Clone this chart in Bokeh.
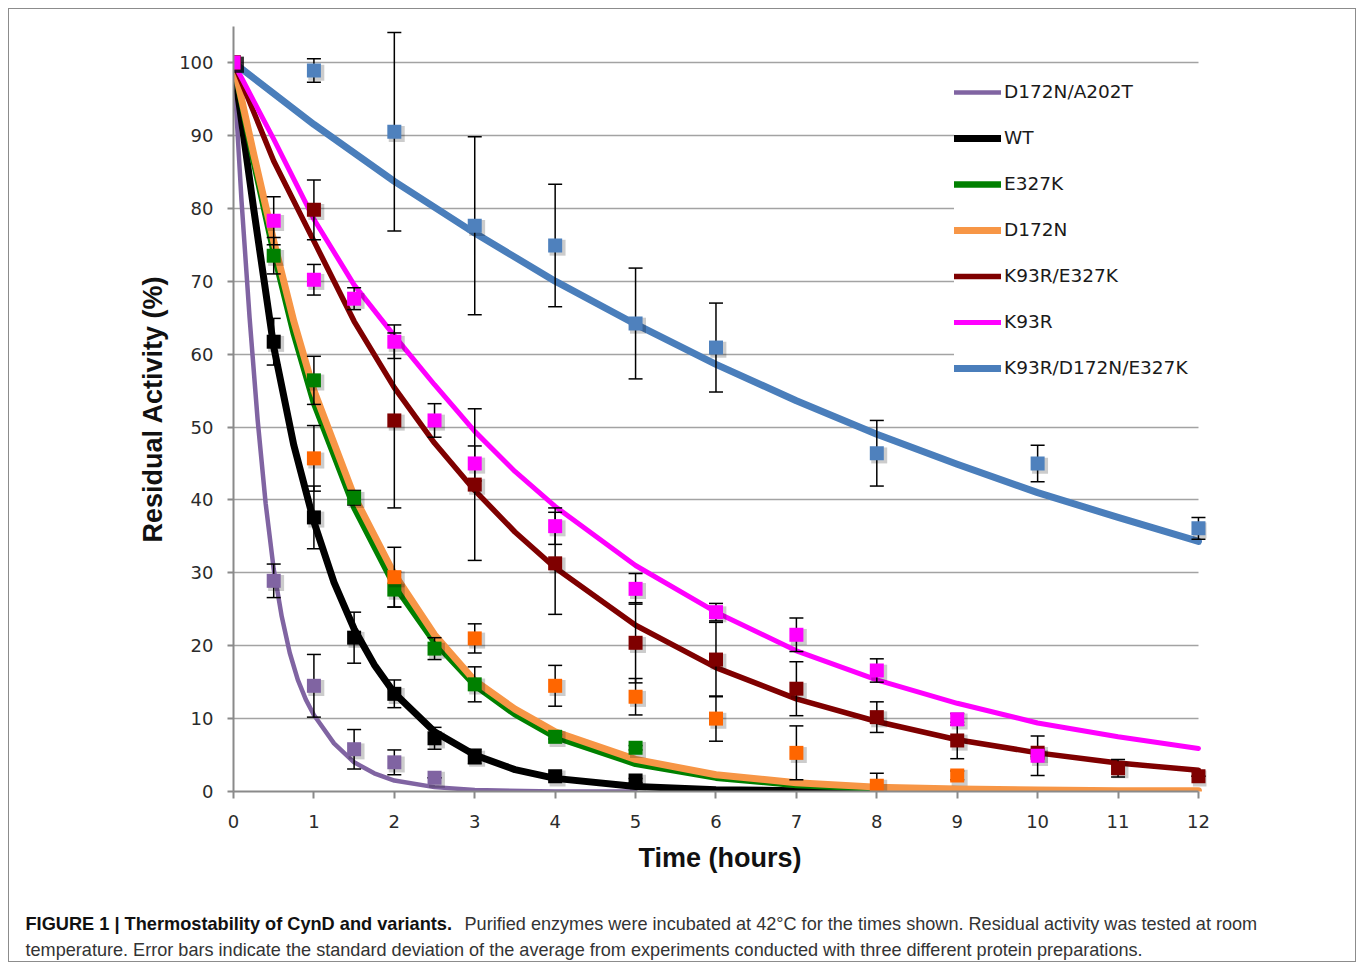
from bokeh.plotting import figure
from bokeh.layouts import column, row
from bokeh.models import (ColumnDataSource, Legend, LegendItem, FixedTicker, Range1d, Spacer)
from bokeh.transform import dodge
from bokeh.core.properties import value
from bokeh.embed import file_html
from bokeh.resources import INLINE

# ---------------- data ----------------
names = ["D172N/A202T", "WT", "E327K", "D172N", "K93R/E327K", "K93R", "K93R/D172N/E327K"]
line_colors = ["#8064A2", "#000000", "#008000", "#F79646", "#7F0000", "#FF00FF", "#4A7EBB"]
marker_colors = ["#8064A2", "#000000", "#008000", "#FF6600", "#7F0000", "#FF00FF", "#4F81BD"]

# measured points (time h, residual activity %, std dev)
purple_t = [0, 0.5, 1, 1.5, 2, 2.5]
purple_y = [100, 28.9, 14.5, 5.8, 4.0, 1.9]
purple_sd = [0, 2.3, 4.3, 2.7, 1.7, 0]

wt_t = [0, 0.5, 1, 1.5, 2, 2.5, 3, 4, 5]
wt_y = [100, 61.7, 37.6, 21.1, 13.4, 7.3, 4.8, 2.1, 1.5]
wt_sd = [0, 3.2, 4.3, 3.5, 1.9, 1.5, 1.0, 0.3, 0.3]

green_t = [0, 0.5, 1, 1.5, 2, 2.5, 3, 4, 5]
green_y = [100, 73.5, 56.4, 40.3, 27.7, 19.6, 14.7, 7.5, 6.0]
green_sd = [0, 2.5, 3.3, 1.0, 2.4, 1.5, 2.4, 0.3, 0.3]

orange_t = [0, 1, 2, 3, 4, 5, 6, 7, 8, 9]
orange_y = [100, 45.7, 29.4, 21.0, 14.5, 13.0, 10.0, 5.3, 0.8, 2.2]
orange_sd = [0, 4.5, 4.1, 2.0, 2.8, 2.5, 3.1, 3.7, 1.7, 0.6]

dred_t = [0, 1, 2, 3, 4, 5, 6, 7, 8, 9, 10, 11, 12]
dred_y = [100, 79.8, 50.9, 42.1, 31.3, 20.4, 18.1, 14.1, 10.2, 7.0, 5.3, 3.2, 2.1]
dred_sd = [0, 4.1, 12.0, 10.4, 7.0, 5.5, 5.1, 3.7, 2.1, 2.5, 0.5, 1.2, 0]

pink_t = [0, 0.5, 1, 1.5, 2, 2.5, 3, 4, 5, 6, 7, 8, 9, 10]
pink_y = [100, 78.3, 70.2, 67.6, 61.7, 50.9, 45.0, 36.4, 27.8, 24.6, 21.5, 16.6, 9.9, 4.9]
pink_sd = [0, 3.3, 2.1, 1.5, 2.3, 2.3, 2.4, 2.5, 2.1, 1.2, 2.3, 1.6, 0.8, 2.7]

blue_t = [0, 1, 2, 3, 4, 5, 6, 8, 10, 12]
blue_y = [100, 98.9, 90.5, 77.6, 74.9, 64.2, 60.9, 46.4, 45.0, 36.1]
blue_sd = [0, 1.6, 13.6, 12.2, 8.4, 7.6, 6.1, 4.5, 2.5, 1.5]

# fitted curves
purple_ct = [0, 0.1, 0.2, 0.3, 0.4, 0.5, 0.6, 0.7, 0.8, 0.9, 1.0, 1.25, 1.5, 1.75, 2.0, 2.5, 3.0, 4.0, 5.0]
purple_cy = [100, 81, 65, 51, 39.5, 30.5, 24, 19, 15.3, 12.6, 10.5, 6.6, 4.0, 2.5, 1.5, 0.6, 0.2, 0.0, 0.0]

wt_ct = [0, 0.25, 0.5, 0.75, 1, 1.25, 1.5, 1.75, 2, 2.5, 3, 3.5, 4, 5, 6, 7, 8]
wt_cy = [100, 80, 61, 47.5, 37, 28.7, 22.3, 17.4, 13.5, 8.2, 5.0, 3.0, 1.8, 0.7, 0.25, 0.1, 0.0]

green_ct = [0, 0.25, 0.5, 0.75, 1, 1.5, 2, 2.5, 3, 3.5, 4, 5, 6, 7, 8]
green_cy = [100, 86.5, 74, 62.8, 53.3, 39.0, 28.3, 20.5, 14.6, 10.6, 7.5, 3.8, 1.9, 0.9, 0.4]

orange_ct = [0, 0.25, 0.5, 0.75, 1, 1.5, 2, 2.5, 3, 3.5, 4, 5, 6, 7, 8, 9, 10, 11, 12]
orange_cy = [100, 87.5, 75.5, 64.5, 55, 40.5, 29.8, 21.5, 15.2, 11.3, 8.2, 4.4, 2.3, 1.2, 0.6, 0.35, 0.2, 0.1, 0.1]

dred_ct = [0, 0.5, 1, 1.5, 2, 2.5, 3, 3.5, 4, 5, 6, 7, 8, 9, 10, 11, 12]
dred_cy = [100, 86.5, 75.5, 64.5, 55.4, 47.8, 41.3, 35.6, 30.7, 22.8, 17.0, 12.7, 9.6, 7.1, 5.3, 3.9, 2.9]

pink_ct = [0, 0.5, 1, 1.5, 2, 2.5, 3, 3.5, 4, 5, 6, 7, 8, 9, 10, 11, 12]
pink_cy = [100, 89.5, 78.5, 69.5, 62.5, 55.8, 49.4, 43.9, 39.1, 31.0, 24.6, 19.3, 15.3, 12.1, 9.4, 7.5, 5.9]

blue_ct = [0, 1, 2, 3, 4, 5, 6, 7, 8, 9, 10, 11, 12]
blue_cy = [100, 91.5, 83.7, 76.6, 70.0, 64.1, 58.6, 53.6, 49.0, 44.9, 41.0, 37.6, 34.3]

x_ticks = [0, 1, 2, 3, 4, 5, 6, 7, 8, 9, 10, 11, 12]
y_ticks = [0, 10, 20, 30, 40, 50, 60, 70, 80, 90, 100]

x_title = "Time (hours)"
y_title = "Residual Activity (%)"
cap_bold = "FIGURE 1 | Thermostability of CynD and variants."
cap_rest1 = "Purified enzymes were incubated at 42°C for the times shown. Residual activity was tested at room"
cap_line2 = ("temperature. Error bars indicate the standard deviation of the average from experiments "
             "conducted with three different protein preparations.")

points = [(purple_t, purple_y, purple_sd), (wt_t, wt_y, wt_sd), (green_t, green_y, green_sd),
          (orange_t, orange_y, orange_sd), (dred_t, dred_y, dred_sd), (pink_t, pink_y, pink_sd),
          (blue_t, blue_y, blue_sd)]
curves = [(purple_ct, purple_cy), (wt_ct, wt_cy), (green_ct, green_cy), (orange_ct, orange_cy),
          (dred_ct, dred_cy), (pink_ct, pink_cy), (blue_ct, blue_cy)]
curve_widths = [4.5, 7, 6.5, 7, 5.5, 5, 7]

# ---------------- main figure ----------------
W, H = 1346, 886
p = figure(width=W, height=H, output_backend="svg", toolbar_location=None, title=None,
           x_range=Range1d(0, 12.1), y_range=Range1d(0, 104.94),
           min_border_left=224, min_border_right=149, min_border_top=17, min_border_bottom=104)
p.frame_align = False
p.outline_line_color = None
p.background_fill_color = "white"
p.border_fill_color = "white"

grid_col = "#a3a3a3"
p.xgrid.visible = False
p.ygrid.ticker = FixedTicker(ticks=y_ticks)
p.ygrid.grid_line_color = grid_col
p.ygrid.grid_line_width = 1.6
try:
    p.ygrid.cross_bounds = (0, 12)
except Exception:
    pass

for ax in (p.xaxis, p.yaxis):
    ax.axis_line_color = "#8a8a8a"
    ax.axis_line_width = 2
    ax.major_tick_line_color = "#8a8a8a"
    ax.major_tick_line_width = 2
    ax.major_tick_in = 0
    ax.minor_tick_line_color = None
    ax.major_label_text_font = "DejaVu Sans"
    ax.major_label_text_font_size = "18px"
    ax.major_label_text_color = "#2b2b2b"
    ax.axis_label_text_font = "Liberation Sans"
    ax.axis_label_text_font_style = "bold"
    ax.axis_label_text_font_size = "27px"
    ax.axis_label_text_color = "#111111"

p.xaxis.bounds = (0, 12)
p.yaxis.bounds = (0, 104.94)
p.xaxis.ticker = FixedTicker(ticks=x_ticks)
p.yaxis.ticker = FixedTicker(ticks=y_ticks)
p.xaxis.major_tick_out = 7
p.yaxis.major_tick_out = 6
p.xaxis.major_label_standoff = 16
p.yaxis.major_label_standoff = 14
p.xaxis.axis_label = x_title
p.yaxis.axis_label = y_title
p.xaxis.axis_label_standoff = 12
p.yaxis.axis_label_standoff = 8

# curves
line_renderers = []
for (ct, cy), col, lw in zip(curves, line_colors, curve_widths):
    r = p.line(ct, cy, line_color=col, line_width=lw, line_join="round", line_cap="round")
    line_renderers.append(r)

# error bars and markers
order = [6, 0, 1, 2, 3, 4, 5]
sources = {}
for i in range(7):
    t, y, sd = points[i]
    sources[i] = ColumnDataSource(dict(t=t, y=y, lo=[a - b for a, b in zip(y, sd)],
                                       hi=[a + b for a, b in zip(y, sd)]))
for i in order:
    s = sources[i]
    p.segment(x0="t", y0="lo", x1="t", y1="hi", source=s, line_color="black", line_width=1.5)
    p.scatter(x="t", y="hi", source=s, marker="dash", size=14, line_color="black", line_width=1.5)
    p.scatter(x="t", y="lo", source=s, marker="dash", size=14, line_color="black", line_width=1.5)
for i in order:
    s = sources[i]
    p.scatter(x=dodge("t", 0.03, range=p.x_range), y=dodge("y", -0.3, range=p.y_range), source=s,
              marker="square", size=16, fill_color="black", fill_alpha=0.2, line_color=None)
    p.scatter(x="t", y="y", source=s, marker="square", size=14,
              fill_color=marker_colors[i], line_color=None)

legend = Legend(items=[LegendItem(label=n, renderers=[r]) for n, r in zip(names, line_renderers)],
                location=(721, 413), orientation="vertical",
                glyph_width=47, glyph_height=20, label_height=20, label_width=197, spacing=25,
                label_standoff=3, padding=10, margin=0,
                label_text_font="DejaVu Sans", label_text_font_size="18.5px",
                label_text_color="#1a1a1a",
                background_fill_color="white", background_fill_alpha=1.0,
                border_line_color=None)
p.add_layout(legend)

# ---------------- caption figure ----------------
HC = 66
cap = figure(width=W, height=HC, output_backend="svg", toolbar_location=None, title=None,
             x_range=Range1d(0, W), y_range=Range1d(0, HC),
             x_axis_location=None, y_axis_location=None,
             min_border=0, min_border_left=0, min_border_right=0, min_border_top=0, min_border_bottom=0)
cap.frame_align = False
cap.outline_line_color = None
cap.xgrid.visible = False
cap.ygrid.visible = False
cap.background_fill_color = "white"
cap.border_fill_color = "white"
cap_font = value("Liberation Sans")
cap.text(x=[16], y=[38], text=[cap_bold], text_font=cap_font, text_font_style="bold",
         text_font_size="18.2px", text_baseline="middle", text_color="#111111")
cap.text(x=[455], y=[38], text=[cap_rest1], text_font=cap_font,
         text_font_size="18.1px", text_baseline="middle", text_color="#333333")
cap.text(x=[16], y=[12], text=[cap_line2], text_font=cap_font,
         text_font_size="18.1px", text_baseline="middle", text_color="#333333")

inner = column(p, cap, spacing=0)
inner.styles = {"border": "1px solid #8c8c8c"}
layout = column(Spacer(height=8), row(Spacer(width=8), inner, spacing=0), spacing=0)

open("out.html", "w").write(file_html(layout, INLINE))
